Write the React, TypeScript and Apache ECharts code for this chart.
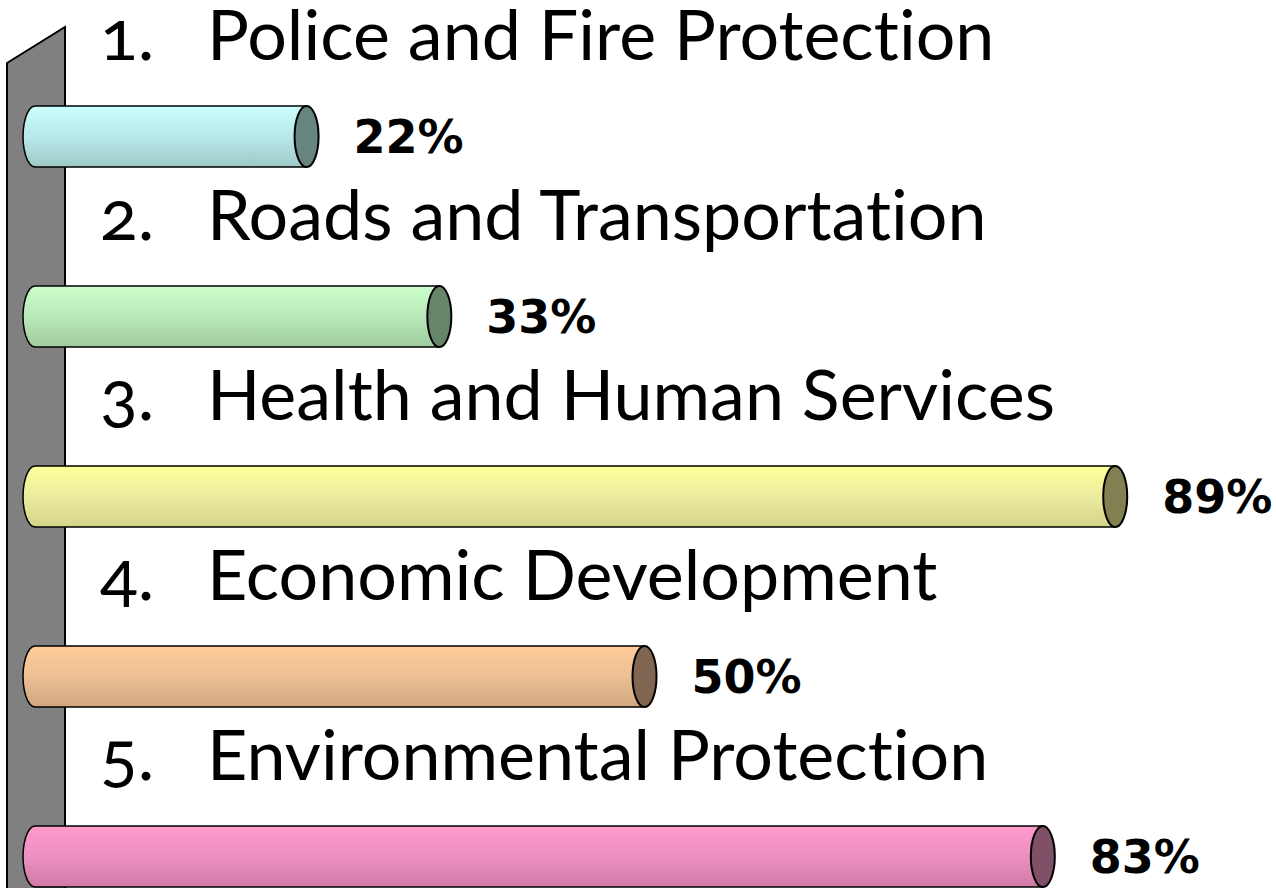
import React, { useEffect, useRef } from "react";
import * as echarts from "echarts";

const ranks = ["1.", "2.", "3.", "4.", "5."];
const categories = [
  "Police and Fire Protection",
  "Roads and Transportation",
  "Health and Human Services",
  "Economic Development",
  "Environmental Protection",
];
const values = [22, 33, 89, 50, 83];

const bodyTop = ["#ccffff", "#ccffcc", "#ffff99", "#ffcc99", "#ff99cc"];
const bodyMid = ["#b8e8e8", "#b8e8b8", "#ececa0", "#ecbf94", "#ec90c0"];
const bodyBottom = ["#9fc9c9", "#a0cca0", "#d4d48a", "#d2a77e", "#d07aa6"];
const capColors = ["#668480", "#66856a", "#808050", "#806650", "#805068"];

const AXIS_MIN = -0.5;
const AXIS_MAX = 100;

export default function App() {
  const ref = useRef<HTMLDivElement>(null);
  useEffect(() => {
    if (!ref.current) return;
    const chart = echarts.init(ref.current, null, { renderer: "svg" });
    const titleFont = "Lato";
    const titleSize = 70;
    const option: any = {
      animation: false,
      backgroundColor: "#ffffff",
      grid: { left: 35, right: 28, top: 136.5, bottom: 31.5, containLabel: false },
      xAxis: { type: "value", min: AXIS_MIN, max: AXIS_MAX, show: false },
      yAxis: {
        type: "category",
        data: categories,
        inverse: true,
        boundaryGap: false,
        show: false,
      },
      graphic: [
        {
          type: "polygon",
          z: 0,
          shape: { points: [[7, 63], [65, 27], [65, 920], [7, 920]] },
          style: { fill: "#808080", stroke: "#000000", lineWidth: 2 },
        },
      ],
      series: [
        {
          type: "custom",
          z: 5,
          data: values.map((v, i) => [v, i]),
          encode: { x: 0, y: 1 },
          renderItem: (params: any, api: any) => {
            const v = api.value(0);
            const i = api.value(1);
            const [x1, cy] = api.coord([v, i]);
            const [x0] = api.coord([AXIS_MIN, i]);
            const h = 61;
            const ry = h / 2;
            const rx = 12;
            const top = cy - ry;
            const bottom = cy + ry;
            const pts: number[][] = [];
            pts.push([x1, top]);
            const n = 14;
            for (let k = 0; k <= n; k++) {
              const a = -Math.PI / 2 - (Math.PI * k) / n;
              pts.push([x0 + rx * Math.cos(a), cy + ry * Math.sin(a)]);
            }
            pts.push([x1, bottom]);
            const grad = new echarts.graphic.LinearGradient(0, 0, 0, 1, [
              { offset: 0, color: bodyTop[i] },
              { offset: 0.5, color: bodyMid[i] },
              { offset: 1, color: bodyBottom[i] },
            ]);
            const titleY = cy - 75.5 - 28;
            return {
              type: "group",
              children: [
                {
                  type: "polygon",
                  shape: { points: pts },
                  style: { fill: grad, stroke: "#000000", lineWidth: 1.5 },
                },
                {
                  type: "ellipse",
                  shape: { cx: x1, cy, rx, ry },
                  style: { fill: capColors[i], stroke: "#000000", lineWidth: 2 },
                },
                {
                  type: "text",
                  x: x1 + rx + 35,
                  y: cy,
                  style: {
                    text: `${values[i]}%`,
                    fontFamily: "DejaVu Sans",
                    fontWeight: "bold",
                    fontSize: 46,
                    fill: "#000000",
                    verticalAlign: "middle",
                    align: "left",
                  },
                },
                {
                  type: "text",
                  x: 100,
                  y: titleY,
                  style: {
                    text: ranks[i],
                    fontFamily: titleFont,
                    fontSize: titleSize,
                    lineHeight: 60,
                    fill: "#000000",
                    verticalAlign: "middle",
                    align: "left",
                  },
                },
                {
                  type: "text",
                  x: 207,
                  y: titleY,
                  style: {
                    text: categories[i],
                    fontFamily: titleFont,
                    fontSize: titleSize,
                    lineHeight: 60,
                    fill: "#000000",
                    verticalAlign: "middle",
                    align: "left",
                  },
                },
              ],
            };
          },
        },
      ],
    };
    chart.setOption(option);
    return () => chart.dispose();
  }, []);
  return (
    <div
      ref={ref}
      style={{
        position: "fixed",
        left: 0,
        top: 0,
        width: 1276,
        height: 888,
        background: "#fff",
        fontVariantLigatures: "none",
        fontVariantNumeric: "oldstyle-nums",
      }}
    />
  );
}
